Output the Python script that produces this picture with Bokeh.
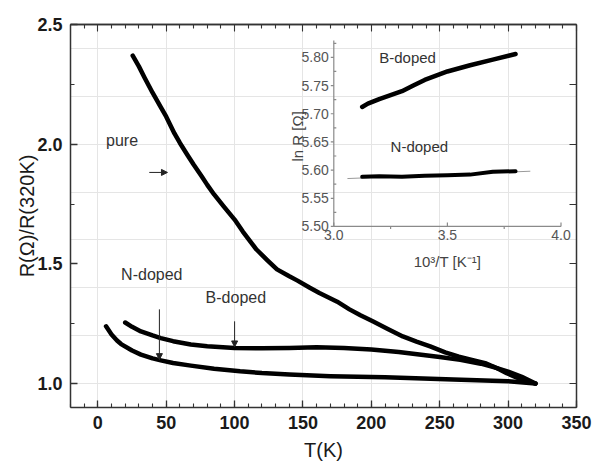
import math
from bokeh.plotting import figure
from bokeh.models import (Range1d, LinearAxis, SingleIntervalTicker, FixedTicker, Arrow,
                          NormalHead, Label, NumeralTickFormatter)
from bokeh.embed import file_html
from bokeh.resources import INLINE

FONT = "Liberation Sans"

# ---- main panel data: R(T)/R(320K) ----
pure_T = [25.5, 30, 34, 40, 46, 50, 56, 60, 65.5, 70, 76, 80, 85, 92, 100, 106, 116, 124, 131,
          140, 146, 155, 162, 175, 184, 192, 201, 212, 223, 233, 243, 254, 264, 275, 284, 292,
          299, 306, 312, 320]
pure_R = [2.37, 2.325, 2.28, 2.215, 2.155, 2.115, 2.045, 2.005, 1.955, 1.915, 1.865, 1.83, 1.79,
          1.74, 1.685, 1.635, 1.56, 1.515, 1.477, 1.448, 1.43, 1.40, 1.378, 1.342, 1.31, 1.285,
          1.26, 1.228, 1.197, 1.175, 1.155, 1.13, 1.112, 1.097, 1.084, 1.064, 1.043, 1.026,
          1.013, 1.0]

bdop_T = [20, 25, 31.5, 40, 46, 55, 68, 80, 100, 120, 140, 160, 180, 200, 220, 235, 250, 265,
          280, 290, 300, 310, 320]
bdop_R = [1.255, 1.237, 1.218, 1.201, 1.19, 1.177, 1.163, 1.156, 1.149, 1.147, 1.149, 1.152,
          1.149, 1.142, 1.132, 1.121, 1.111, 1.099, 1.083, 1.068, 1.05, 1.028, 1.0]

ndop_T = [6, 10, 14, 17, 25, 31.5, 40, 46, 55, 68, 85, 104, 120, 140, 170, 210, 260, 300, 320]
ndop_R = [1.239, 1.205, 1.18, 1.165, 1.138, 1.121, 1.105, 1.097, 1.086, 1.075, 1.062, 1.051,
          1.044, 1.038, 1.031, 1.026, 1.017, 1.01, 1.0]

# ---- inset data: ln R vs 1000/T ----
inB_x = [3.125, 3.15, 3.2, 3.25, 3.3, 3.35, 3.4, 3.5, 3.6, 3.7, 3.8]
inB_y = [5.712, 5.718, 5.726, 5.733, 5.740, 5.750, 5.760, 5.775, 5.786, 5.796, 5.806]
inN_x = [3.125, 3.2, 3.3, 3.4, 3.5, 3.6, 3.7, 3.8]
inN_y = [5.588, 5.589, 5.588, 5.590, 5.591, 5.592, 5.597, 5.598]
fit_x = [3.06, 3.865]
fit_y = [5.585, 5.598]
inset_xticks = [3.0, 3.5, 4.0]
inset_xminor = [3.25, 3.75]
inset_yticks = [5.50, 5.55, 5.60, 5.65, 5.70, 5.75, 5.80]
inset_yminor = [5.525, 5.575, 5.625, 5.675, 5.725, 5.775, 5.825]

AX = "#333333"
W, H = 593, 463
# frame geometry (pixels) of the main panel and of the inset inside it
FL, FR, FT, FB = 70, 576, 24, 408
IL, IR, IT, IB = 333.3, 560.5, 40, 226.5
X_MIN, X_MAX, Y_MIN, Y_MAX = -20, 350, 0.9, 2.5
IX0, IX1, IY0, IY1 = 3.0, 4.0, 5.5, 5.83

# extra ranges that place the inset's data space over the inset box
sx = (IR - IL) / (IX1 - IX0)
sy = (IB - IT) / (IY1 - IY0)
inset_xr = Range1d(IX0 - (IL - FL) / sx, IX1 + (FR - IR) / sx)
inset_yr = Range1d(IY0 - (FB - IB) / sy, IY1 + (IT - FT) / sy)

p = figure(width=W, height=H, x_range=Range1d(X_MIN, X_MAX), y_range=Range1d(Y_MIN, Y_MAX),
           x_axis_location=None, y_axis_location=None, output_backend="svg",
           toolbar_location=None, min_border_left=FL, min_border_right=W - FR,
           min_border_top=FT, min_border_bottom=H - FB, outline_line_color=None,
           background_fill_color="white", border_fill_color="white")
p.extra_x_ranges = {"ix": inset_xr}
p.extra_y_ranges = {"iy": inset_yr}


def base(ax):
    ax.axis_line_color = AX
    ax.axis_line_width = 1.5
    ax.major_tick_line_color = AX
    ax.minor_tick_line_color = AX
    ax.major_tick_line_width = 1.3
    ax.minor_tick_line_width = 1.1
    ax.major_tick_in = 7
    ax.major_tick_out = 0
    ax.minor_tick_in = 4
    ax.minor_tick_out = 0


def labelled(ax):
    base(ax)
    ax.major_label_text_font = FONT
    ax.major_label_text_font_size = "18px"
    ax.major_label_text_font_style = "bold"
    ax.major_label_text_color = "#1a1a1a"
    ax.major_label_standoff = 8
    ax.axis_label_text_font = FONT
    ax.axis_label_text_font_size = "20px"
    ax.axis_label_text_font_style = "normal"
    ax.axis_label_text_color = "#1a1a1a"


def bare(positions, length):
    ax = LinearAxis(ticker=FixedTicker(ticks=[], minor_ticks=positions))
    base(ax)
    ax.minor_tick_in = length
    ax.major_label_standoff = 0
    return ax


xb = LinearAxis(ticker=SingleIntervalTicker(interval=50, num_minor_ticks=5), axis_label="T(K)")
labelled(xb)
xb.axis_label_standoff = 7
yl = LinearAxis(ticker=SingleIntervalTicker(interval=0.5, num_minor_ticks=2),
                axis_label="R(Ω)/R(320K)", formatter=NumeralTickFormatter(format="0.0"))
labelled(yl)
yl.axis_label_standoff = -4
p.add_layout(xb, "below")
p.add_layout(yl, "left")

top_minor = [v for v in range(-10, 350, 10) if v % 50]
top_major = list(range(0, 351, 50))
right_ticks = [1.0 + 0.25 * i for i in range(6)]
p.add_layout(bare(top_minor, 4), "above")
p.add_layout(bare(top_major, 7), "above")
p.add_layout(bare(right_ticks, 7), "right")

for T, R in ((pure_T, pure_R), (bdop_T, bdop_R), (ndop_T, ndop_R)):
    p.line(T, R, line_width=4.5, line_color="black", line_join="round", line_cap="round")

ARR = "#222222"
for xs, ys, xe, ye in ((37.6, 1.882, 50.9, 1.882), (45, 1.31, 45, 1.10), (100, 1.26, 100, 1.153)):
    p.add_layout(Arrow(end=NormalHead(size=6, line_color=ARR, fill_color=ARR, line_width=1),
                       x_start=xs, y_start=ys, x_end=xe, y_end=ye,
                       line_color=ARR, line_width=1))

for tx, ty, txt in ((6, 2.017, "pure"), (17, 1.454, "N-doped"), (78.8, 1.358, "B-doped")):
    p.add_layout(Label(x=tx, y=ty, text=txt, text_font=FONT, text_font_size="16px",
                       text_color="#333333", text_baseline="middle"))

# ---- inset, drawn in its own data space ----
IAX = "#8a8a8a"
R = dict(x_range_name="ix", y_range_name="iy")
p.segment(x0=[IX0, IX0], y0=[IY0, IY0], x1=[IX1, IX0], y1=[IY0, IY1],
          line_color=IAX, line_width=1.2, **R)
# y ticks: majors outward (left), minors inward (right)
p.ray(x=[IX0] * len(inset_yticks), y=inset_yticks, length=3, length_units="screen",
      angle=math.pi, line_color=IAX, line_width=1.2, **R)
p.ray(x=[IX0] * len(inset_yminor), y=inset_yminor, length=2.5, length_units="screen",
      angle=0, line_color=IAX, line_width=1.2, **R)
# x ticks: majors inward (up), minors outward (down)
p.ray(x=inset_xticks, y=[IY0] * len(inset_xticks), length=4, length_units="screen",
      angle=math.pi / 2, line_color=IAX, line_width=1.2, **R)
p.ray(x=inset_xminor, y=[IY0] * len(inset_xminor), length=2.5, length_units="screen",
      angle=-math.pi / 2, line_color=IAX, line_width=1.2, **R)
p.text(x=[IX0] * len(inset_yticks), y=inset_yticks, text=[f"{v:.2f}" for v in inset_yticks],
       x_offset=-5, text_align="right", text_baseline="middle", text_font={"value": FONT},
       text_font_size="14px", text_color="#555555", **R)
p.text(x=inset_xticks, y=[IY0] * len(inset_xticks), text=[f"{v:.1f}" for v in inset_xticks],
       y_offset=4, text_align="center", text_baseline="top", text_font={"value": FONT},
       text_font_size="14px", text_color="#555555", **R)
p.text(x=[(IX0 + IX1) / 2], y=[IY0], text=["10³/T [K⁻¹]"], y_offset=27, text_align="center",
       text_baseline="top", text_font={"value": FONT}, text_font_size="15px",
       text_color="#444444", **R)
p.text(x=[IX0], y=[(IY0 + 5.80) / 2 + 0.01], text=["ln R [Ω]"], x_offset=-36, angle=math.pi / 2,
       text_align="center", text_baseline="middle", text_font={"value": FONT},
       text_font_size="15px", text_color="#444444", **R)

p.line(fit_x, fit_y, line_width=1, line_color="#9a9a9a", **R)
p.line(inB_x, inB_y, line_width=4.5, line_color="black", line_join="round", line_cap="round", **R)
p.line(inN_x, inN_y, line_width=4, line_color="black", line_join="round", line_cap="round", **R)

p.text(x=[3.2, 3.25], y=[5.80, 5.642], text=["B-doped", "N-doped"], text_font={"value": FONT},
       text_font_size="15px", text_color="#333333", text_baseline="middle", **R)

open("out.html", "w").write(file_html(p, INLINE))
